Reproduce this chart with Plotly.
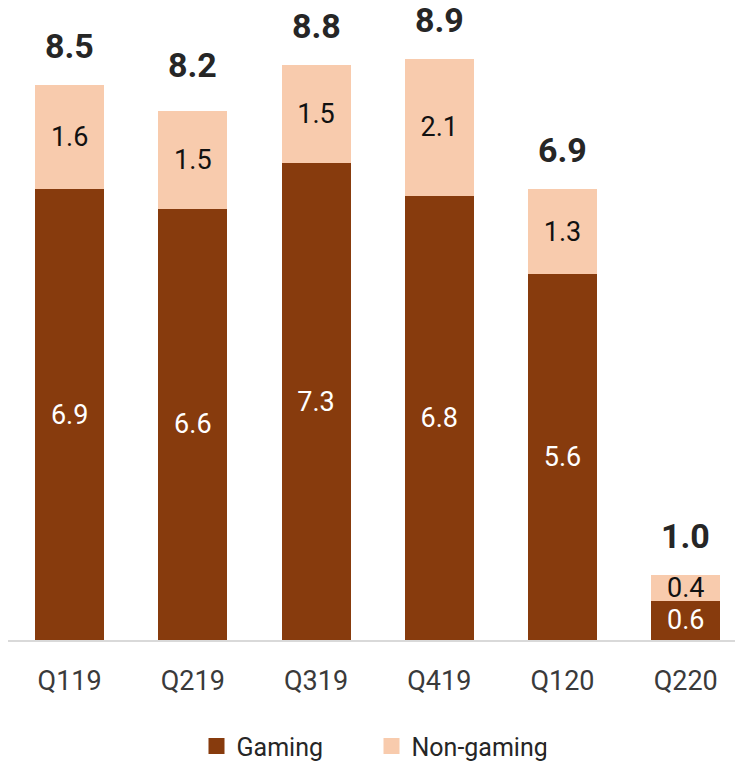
import plotly.graph_objects as go

categories = ["Q119", "Q219", "Q319", "Q419", "Q120", "Q220"]
gaming = [6.9, 6.6, 7.3, 6.8, 5.6, 0.6]
non_gaming = [1.6, 1.5, 1.5, 2.1, 1.3, 0.4]
totals = [8.5, 8.2, 8.8, 8.9, 6.9, 1.0]

FONT = "Roboto"
C_GAMING = "#873B0D"
C_NON = "#F8CBAD"
fig = go.Figure()
fig.add_trace(go.Bar(
    x=categories, y=gaming, name="Gaming", showlegend=False,
    marker=dict(color=C_GAMING, line=dict(width=0)),
    text=[f"{v:.1f}" for v in gaming], textposition="inside",
    insidetextanchor="middle", constraintext="none",
    textfont=dict(family=FONT, size=27, color="white"),
    width=0.56,
))
fig.add_trace(go.Bar(
    x=categories, y=non_gaming, name="Non-gaming", showlegend=False,
    marker=dict(color=C_NON, line=dict(width=0)),
    text=[f"{v:.1f}" for v in non_gaming], textposition="inside",
    insidetextanchor="middle", constraintext="none",
    textfont=dict(family=FONT, size=27, color="#111111"),
    width=0.56,
))
# legend entries
for nm, col in [("Gaming", C_GAMING), ("Non-gaming", C_NON)]:
    fig.add_trace(go.Scatter(x=[None], y=[None], mode="markers", name=nm,
                             marker=dict(symbol="square", size=16, color=col)))

for c, t in zip(categories, totals):
    fig.add_annotation(x=c, y=t, text=f"<b>{t:.1f}</b>", showarrow=False,
                       yanchor="bottom", yshift=17,
                       font=dict(family=FONT, size=34, color="#262626"))

fig.update_layout(
    barmode="stack",
    width=735, height=762,
    margin=dict(l=8, r=0, t=0, b=122, autoexpand=False),
    plot_bgcolor="white", paper_bgcolor="white",
    uniformtext=dict(minsize=27, mode="show"),
    xaxis=dict(range=[-0.5, 5.4], showline=True, linecolor="#D9D9D9", linewidth=2,
               tickfont=dict(family=FONT, size=27, color="#3A3A3A"), ticks="",
               ticklabelstandoff=16, showgrid=False, automargin=False),
    yaxis=dict(range=[0, 9.8], visible=False, showgrid=False, automargin=False),
    showlegend=True,
    legend=dict(orientation="h", x=0.5, xanchor="center", y=-0.166, yanchor="middle",
                font=dict(family=FONT, size=25, color="#262626"),
                traceorder="normal", itemsizing="trace",
                entrywidth=130, entrywidthmode="pixels"),
    bargap=0.44,
)
fig.write_html("out.html")
